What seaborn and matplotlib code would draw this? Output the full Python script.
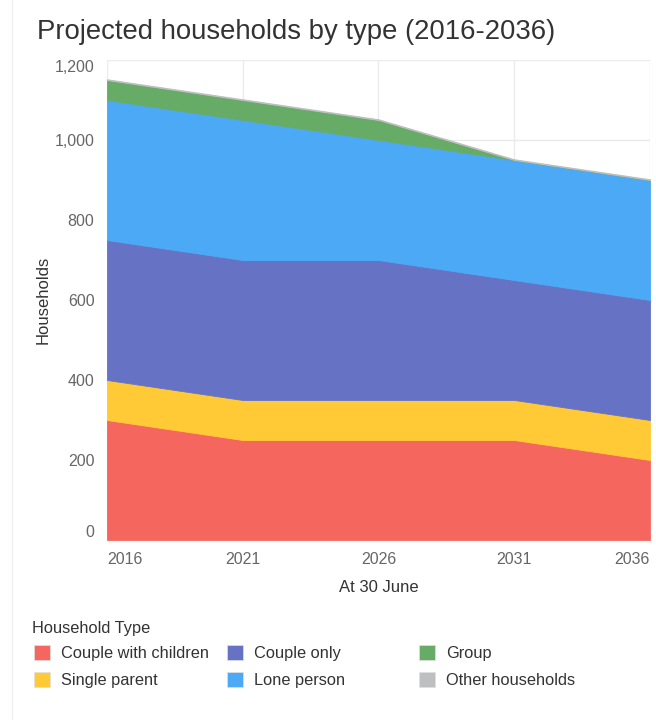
import matplotlib
matplotlib.use("Agg")
import matplotlib.pyplot as plt
import numpy as np
import seaborn as sns
from matplotlib.lines import Line2D
from matplotlib.patches import Patch
from matplotlib.ticker import FuncFormatter

# ── Data ─────────────────────────────────────────────────────────────
years = [2016, 2021, 2026, 2031, 2036]
couple_with_children = [300, 250, 250, 250, 200]
single_parent = [100, 100, 100, 100, 100]
couple_only = [350, 350, 350, 300, 300]
lone_person = [350, 350, 300, 300, 300]
group = [50, 50, 50, 0, 0]
other_households = [2, 2, 2, 2, 2]

series_names = ["Couple with children", "Single parent", "Couple only",
                "Lone person", "Group", "Other households"]
series_colors = ["#F5675E", "#FFCA35", "#6673C4", "#4BA9F5", "#66AC66", "#BDBFC1"]
y_ticks = [0, 200, 400, 600, 800, 1000, 1200]

sns.set_theme(style="white")
plt.rcParams["font.family"] = ["Liberation Sans", "DejaVu Sans"]

fig = plt.figure(figsize=(6.56, 7.2), dpi=100)
ax = fig.add_axes([107 / 656, 1 - 540 / 720, (650 - 107) / 656, (540 - 60) / 720])

values = [couple_with_children, single_parent, couple_only,
          lone_person, group, other_households]
ax.stackplot(years, *values, colors=series_colors, labels=series_names,
             edgecolor="face", linewidth=0.6, zorder=2)

ax.set_xlim(years[0], years[-1])
ax.set_ylim(0, 1200)
ax.set_xticks(years)
ax.set_yticks(y_ticks)
ax.yaxis.set_major_formatter(FuncFormatter(lambda v, _: f"{int(v):,}"))

ax.grid(True, color="#EBEBEB", linewidth=1, zorder=0)
ax.set_axisbelow(True)
for s in ax.spines.values():
    s.set_visible(False)
ax.tick_params(axis="both", length=6, width=1, color="#E6E6E6",
               labelsize=11.5, labelcolor="#666666", pad=3)

xl = ax.get_xticklabels()
xl[0].set_ha("left")
xl[-1].set_ha("right")
yl = ax.get_yticklabels()
yl[0].set_va("bottom")
yl[-1].set_va("top")

ax.set_xlabel("At 30 June", fontsize=12, color="#333333", labelpad=9)
ax.set_ylabel("Households", fontsize=12, color="#333333", labelpad=3)

fig.text(37 / 656, 1 - 32 / 720, "Projected households by type (2016-2036)",
         fontsize=19.8, color="#333333", va="center", ha="left")

# faint card border on the left
fig.add_artist(Line2D([12 / 656, 12 / 656], [0, 1], color="#F0F0F0", lw=1,
                      transform=fig.transFigure))

# ── Legend: title + three fixed-position columns ────────────────────
fig.text(32 / 656, 1 - 628 / 720, "Household Type", fontsize=11.8,
         color="#333333", va="center", ha="left")
col_x = [34, 227, 419]
for c, x in enumerate(col_x):
    idx = [c * 2, c * 2 + 1]
    handles = [Patch(facecolor=series_colors[i], edgecolor="#E0E0E0", lw=0.5)
               for i in idx]
    labels = [series_names[i] for i in idx]
    leg = fig.legend(handles, labels, loc="upper left",
                     bbox_to_anchor=(x / 656, 1 - 645 / 720),
                     frameon=False, fontsize=11.8, handlelength=1.0,
                     handleheight=1.0, handletextpad=0.65, labelspacing=0.68,
                     borderaxespad=0, borderpad=0)
    for t in leg.get_texts():
        t.set_color("#333333")

fig.savefig("out.png", dpi=100)
